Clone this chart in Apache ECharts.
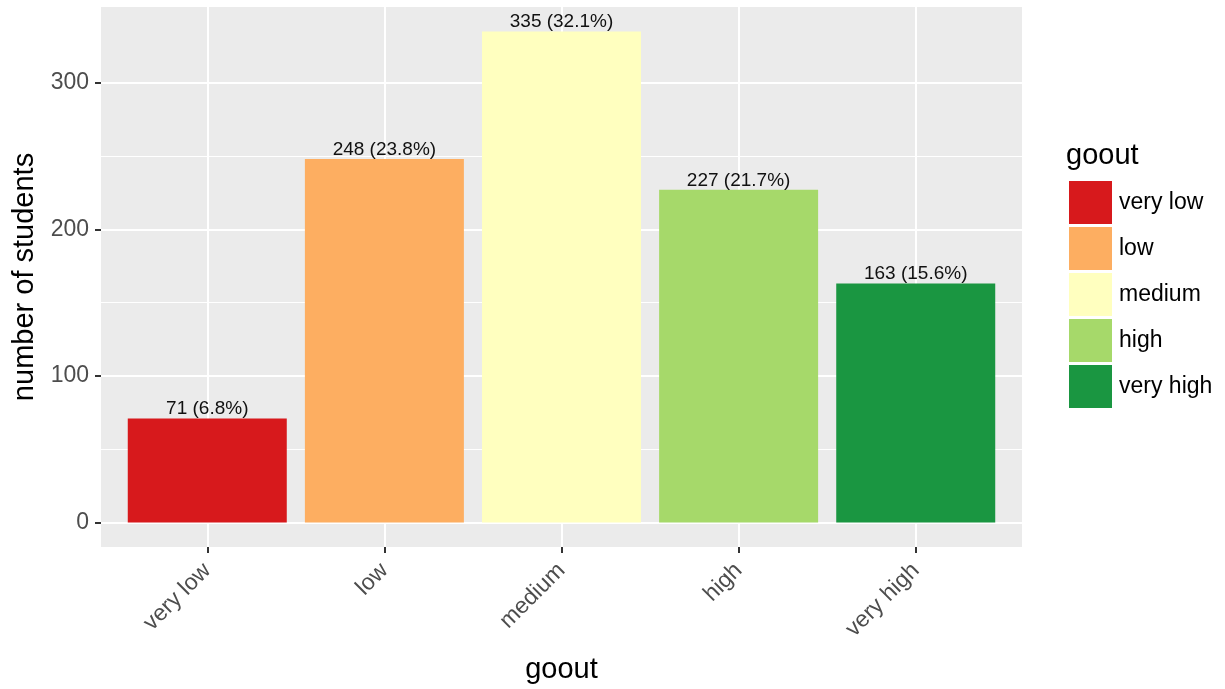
<!DOCTYPE html>
<html>
<head>
<meta charset="utf-8">
<script src="https://cdn.jsdelivr.net/npm/echarts@6/dist/echarts.min.js"></script>
<style>html,body{margin:0;padding:0;background:#fff}#c{width:1225px;height:689px}</style>
</head>
<body>
<div id="c"></div>
<script>
const categories = ['very low', 'low', 'medium', 'high', 'very high'];
const counts = [71, 248, 335, 227, 163];
const colors = ['#D7191C', '#FDAE61', '#FFFFBF', '#A6D96A', '#1A9641'];
const yTicks = [0, 100, 200, 300];
const yMinor = [50, 150, 250];
const xTicks = [1, 2, 3, 4, 5];

const total = counts.reduce((a, b) => a + b, 0);
const FONT = '"Liberation Sans", Arial, Helvetica, sans-serif';

const chart = echarts.init(document.getElementById('c'));

const series = categories.map((name, i) => ({
  type: 'bar',
  name: name,
  stack: 'all',
  barWidth: 159,
  z: 3,
  itemStyle: { color: colors[i] },
  data: [[i + 1, counts[i]]],
  label: {
    show: true,
    position: 'top',
    distance: 0,
    fontFamily: FONT,
    fontSize: 19,
    color: '#111',
    formatter: () => counts[i] + ' (' + (counts[i] / total * 100).toFixed(1) + '%)'
  }
}));

series.push({
  type: 'line',
  name: '_minor',
  data: [],
  z: 1,
  silent: true,
  markLine: {
    silent: true,
    z: 1,
    symbol: 'none',
    label: { show: false },
    lineStyle: { color: '#FFFFFF', width: 1, type: 'solid' },
    data: yMinor.map(v => ({ yAxis: v }))
  }
});

chart.setOption({
  animation: false,
  backgroundColor: '#FFFFFF',
  textStyle: { fontFamily: FONT },
  title: {
    text: 'goout',
    left: 1066,
    top: 141,
    padding: 0,
    textStyle: { fontFamily: FONT, fontSize: 29, fontWeight: 'normal', color: '#000' }
  },
  legend: {
    orient: 'vertical',
    left: 1069,
    top: 181,
    padding: 0,
    itemWidth: 43,
    itemHeight: 43,
    itemGap: 3,
    icon: 'rect',
    data: categories,
    textStyle: { fontFamily: FONT, fontSize: 23, color: '#000', padding: [0, 0, 0, 2] },
    selectedMode: false
  },
  grid: {
    left: 101,
    right: 203,
    top: 7,
    bottom: 142,
    show: true,
    backgroundColor: '#EBEBEB',
    borderWidth: 0
  },
  xAxis: {
    type: 'value',
    min: 0.4,
    max: 5.6,
    name: 'goout',
    nameLocation: 'middle',
    nameGap: 108,
    nameTextStyle: { fontFamily: FONT, fontSize: 29, color: '#000' },
    axisLine: { show: false, onZero: false },
    axisTick: { show: true, inside: false, length: 6, customValues: xTicks, lineStyle: { color: '#333', width: 2 } },
    axisLabel: {
      customValues: xTicks,
      rotate: 45,
      margin: 20,
      fontFamily: FONT,
      fontSize: 23,
      color: '#4D4D4D',
      formatter: v => categories[Math.round(v) - 1] || ''
    },
    splitLine: { show: true, lineStyle: { color: '#FFFFFF', width: 2 } }
  },
  yAxis: {
    type: 'value',
    min: -16.75,
    max: 351.75,
    name: 'number of students',
    nameLocation: 'middle',
    nameGap: 59,
    nameTextStyle: { fontFamily: FONT, fontSize: 29, color: '#000' },
    axisLine: { show: false, onZero: false },
    axisTick: { show: true, inside: false, length: 6, customValues: yTicks, lineStyle: { color: '#333', width: 2 } },
    axisLabel: {
      customValues: yTicks,
      margin: 12,
      fontFamily: FONT,
      fontSize: 23,
      color: '#4D4D4D'
    },
    splitLine: { show: true, lineStyle: { color: '#FFFFFF', width: 2 } }
  },
  series: series
});
</script>
</body>
</html>
